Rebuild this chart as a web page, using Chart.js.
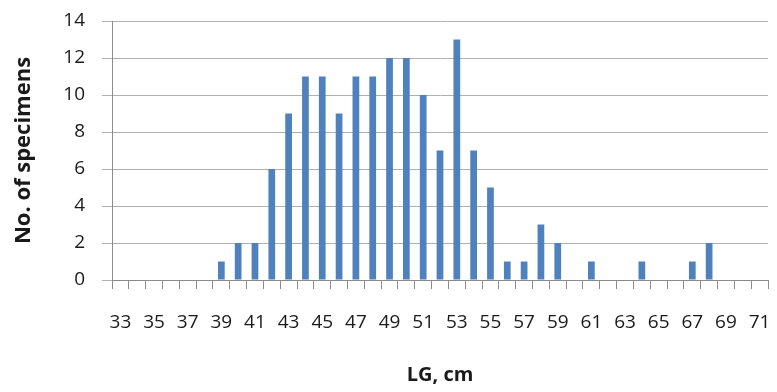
<!DOCTYPE html>
<html lang="en">
<head>
  <meta charset="UTF-8">
  <title>Specimen length distribution</title>
  <script src="https://cdn.jsdelivr.net/npm/chart.js"></script>
  <style>
    body {
      margin: 0;
      background: #ffffff;
    }
    .chart-box {
      width: 777px;
      height: 392px;
      position: relative;
    }
  </style>
</head>
<body>
  <div class="chart-box">
    <canvas id="lgChart"></canvas>
  </div>

  <script>
    // LG classes (cm) and number of specimens in each
    const lengths = ['33','34','35','36','37','38','39','40','41','42','43','44','45','46','47','48','49','50','51','52',
                     '53','54','55','56','57','58','59','60','61','62','63','64','65','66','67','68','69','70','71'];
    const specimens = [0,0,0,0,0,0,1,2,2,6,9,11,11,9,11,11,12,12,10,7,
                       13,7,5,1,1,3,2,0,1,0,0,1,0,0,1,2,0,0,0];
    const yTicks = [0, 2, 4, 6, 8, 10, 12, 14];

    const textColor = '#1a1a1a';
    const gridColor = '#b0b0b0';
    const tickFont = { family: "'Open Sans', sans-serif", size: 19 };
    const titleFont = { family: "'Open Sans', sans-serif", size: 20, weight: 'bold' };

    new Chart(document.getElementById('lgChart'), {
      type: 'bar',
      data: {
        labels: lengths,
        datasets: [{
          label: 'No. of specimens',
          data: specimens,
          backgroundColor: '#4f81bd',
          barPercentage: 0.4,
          categoryPercentage: 1.0
        }]
      },
      options: {
        responsive: true,
        maintainAspectRatio: false,
        animation: false,
        layout: { padding: { top: 21, right: 9, bottom: 0, left: 0 } },
        plugins: {
          legend: { display: false },
          tooltip: { enabled: false }
        },
        scales: {
          x: {
            offset: true,
            grid: {
              offset: true,
              drawOnChartArea: false,
              drawTicks: true,
              tickLength: 9,
              color: '#8c8c8c'
            },
            border: { color: '#8c8c8c' },
            ticks: {
              autoSkip: false,
              maxRotation: 0,
              minRotation: 0,
              padding: 22,
              color: textColor,
              font: tickFont,
              callback: (v, i) => (i % 2 === 0 ? lengths[i] : '')
            },
            title: {
              display: true,
              text: 'LG, cm',
              color: textColor,
              font: titleFont,
              padding: { top: 4, bottom: 5 }
            },
            afterFit: (scale) => {
              scale.height = 112;
              scale.paddingLeft = 0;
              scale.paddingRight = 0;
            }
          },
          y: {
            min: 0,
            max: 14,
            afterBuildTicks: (scale) => { scale.ticks = yTicks.map(v => ({ value: v })); },
            grid: {
              color: gridColor,
              tickLength: 10,
              drawTicks: true
            },
            border: { color: '#8c8c8c' },
            ticks: {
              padding: 17,
              color: textColor,
              font: tickFont
            },
            title: {
              display: true,
              text: 'No. of specimens',
              color: textColor,
              font: { family: "'Open Sans', sans-serif", size: 22, weight: 'bold' },
              padding: { top: 11, bottom: 4 }
            },
            afterFit: (scale) => {
              scale.width = 112;
              scale.paddingTop = 0;
              scale.paddingBottom = 0;
            }
          }
        }
      }
    });
  </script>
</body>
</html>
